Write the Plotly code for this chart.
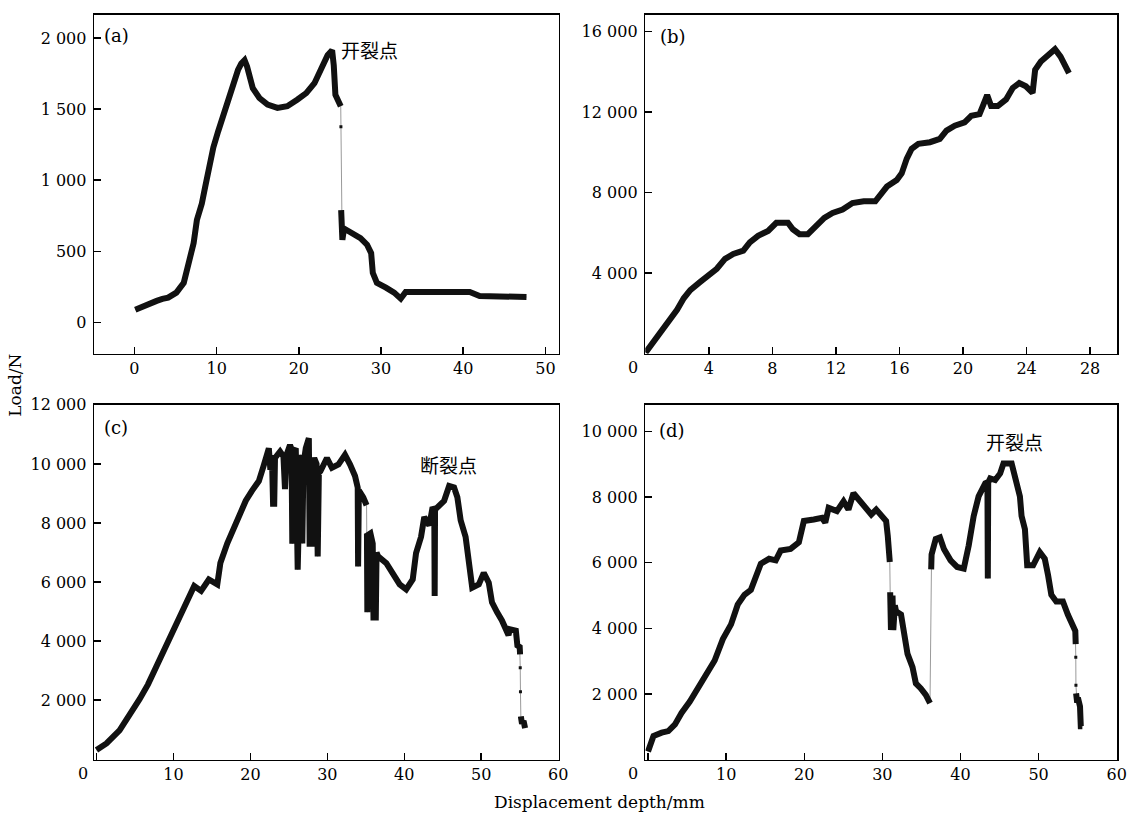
import plotly.graph_objects as go

# ---------------- data ----------------
# (a)
a_x1 = [0.1, 0.6, 1.3, 2.0, 2.7, 3.4, 4.1, 5.1, 6.0, 6.6, 7.2, 7.6, 8.2, 8.6, 9.0, 9.6, 10.2, 10.8, 11.4, 12.0,
        12.6, 13.0, 13.4, 13.7, 14.0, 14.4, 15.2, 16.2, 17.4, 18.6, 19.8, 20.9, 21.9, 22.7, 23.5, 24.05, 24.25,
        24.45, 24.75, 25.1]
a_y1 = [88, 100, 128, 140, 151, 165, 174, 209, 278, 418, 557, 720, 835, 951, 1067, 1230, 1346, 1461, 1578, 1694,
        1775, 1820, 1844, 1800, 1740, 1647, 1578, 1531, 1508, 1520, 1566, 1612, 1682, 1775, 1879, 1914, 1809,
        1600, 1555, 1520]
a_dot_x = [25.12]
a_dot_y = [1376]
a_x2 = [25.15, 25.25, 25.3, 25.5, 25.8, 26.7, 27.5, 28.3, 28.8, 29.0, 29.5, 30.6, 31.6, 32.4, 33.0, 36.2, 40.8,
        42.0, 45.8, 47.7]
a_y2 = [790, 700, 580, 660, 650, 626, 592, 546, 487, 348, 278, 244, 209, 167, 214, 214, 214, 186, 186, 178]

# (b)
b_x = [0.02, 0.54, 1.06, 1.58, 2.0, 2.42, 2.83, 3.46, 3.98, 4.5, 5.02, 5.54, 6.17, 6.58, 7.1, 7.73, 8.25, 8.98,
       9.29, 9.71, 10.23, 10.75, 11.27, 11.79, 12.42, 13.04, 13.75, 14.48, 14.79, 15.21, 15.83, 16.14, 16.46,
       16.77, 17.19, 17.92, 18.54, 18.96, 19.48, 20.1, 20.52, 21.04, 21.25, 21.52, 21.77, 22.19, 22.71, 23.13,
       23.54, 23.96, 24.38, 24.54, 24.9, 25.42, 25.79, 26.14, 26.46, 26.67]
b_y = [54, 622, 1195, 1685, 2175, 2748, 3154, 3561, 3889, 4216, 4706, 4952, 5113, 5520, 5848, 6093, 6500, 6500,
       6176, 5931, 5931, 6338, 6744, 6989, 7156, 7480, 7562, 7562, 7890, 8297, 8624, 8950, 9685, 10175, 10420,
       10500, 10663, 11074, 11319, 11481, 11809, 11889, 12298, 12837, 12298, 12298, 12622, 13195, 13440, 13278,
       12950, 14091, 14503, 14826, 15120, 14747, 14174, 13930]

# (c)
c_x1 = [0.0, 1.3, 3.0, 4.3, 5.6, 6.7, 7.8, 8.8, 9.7, 10.6, 11.4, 12.1, 12.7, 13.6, 14.6, 15.7, 16.1, 17.0, 17.6,
        18.5, 19.4, 20.2, 21.1, 21.7, 22.15, 22.4, 22.6, 22.8, 22.95, 23.1, 23.2, 23.86, 24.3, 24.5, 24.7, 25.15,
        25.35, 25.45, 25.55, 25.9, 26.15, 26.3, 26.5, 26.75, 26.9, 27.2, 27.6, 27.7, 28.0, 28.1, 28.3, 28.6,
        28.75, 28.9, 29.1, 29.95, 30.6, 31.45, 32.3, 32.96, 33.6, 33.95, 34.0, 34.1, 34.67, 35.1]
c_y1 = [310, 533, 977, 1477, 2033, 2533, 3143, 3700, 4200, 4753, 5143, 5587, 5867, 5700, 6087, 5920, 6643, 7310,
        7700, 8200, 8753, 9087, 9420, 9920, 10420, 10530, 9800, 10300, 8650, 8650, 10200, 10420, 10250, 9150,
        10310, 10640, 10500, 7300, 10400, 10530, 6420, 9500, 10310, 7310, 10000, 10530, 10870, 7300, 7300, 10000,
        10200, 10000, 6870, 9700, 9750, 10200, 9870, 9980, 10310, 9980, 9590, 9200, 6530, 9100, 8870, 8600]
c_x2 = [35.15, 35.2, 35.3, 35.6, 35.9, 36.0, 36.3, 36.4, 36.6, 37.67, 38.53, 39.4, 40.25, 41.1, 41.53, 42.18,
        42.6, 43.26, 43.68, 43.9, 43.95, 44.0, 44.54, 45.18, 45.83, 46.47, 46.9, 47.33, 47.97, 48.4, 48.83, 49.69,
        50.33, 50.98, 51.4, 52.05, 52.69, 53.55, 53.7, 54.5, 54.7, 55.0, 55.05]
c_y2 = [7640, 4980, 7600, 7650, 7300, 4800, 4800, 7000, 6870, 6640, 6310, 5920, 5750, 6090, 6980, 7530, 8200,
        7920, 8530, 8450, 5530, 8450, 8590, 8750, 9250, 9200, 8870, 8090, 7530, 6640, 5810, 5920, 6310, 5980,
        5310, 4980, 4700, 4200, 4400, 4350, 3850, 3800, 3550]
c_dot_x = [55.07, 55.1]
c_dot_y = [3100, 2280]
c_x3 = [55.15, 55.3, 55.5, 55.7]
c_y3 = [1450, 1200, 1300, 1050]

# (d)
d_x1 = [0.0, 0.7, 1.75, 2.6, 3.45, 4.29, 5.35, 6.41, 7.46, 8.53, 9.58, 10.63, 11.48, 12.34, 13.17, 13.81, 14.44,
        15.5, 16.35, 16.98, 18.25, 19.31, 19.95, 21.22, 22.27, 22.69, 23.12, 24.18, 25.03, 25.66, 26.3, 26.46,
        27.1, 27.94, 28.58, 29.21, 29.85, 30.48, 30.69, 30.95]
d_y1 = [250, 720, 822, 870, 1071, 1422, 1770, 2172, 2571, 3021, 3672, 4122, 4722, 5022, 5172, 5622, 5970, 6120,
        6072, 6372, 6420, 6621, 7272, 7320, 7371, 7221, 7671, 7572, 7872, 7620, 8121, 8071, 7872, 7620, 7470,
        7620, 7422, 7272, 6822, 6021]
d_x2 = [31.0, 31.1, 31.3, 31.4, 31.6, 31.75, 32.39, 32.8, 33.22, 33.86, 34.29, 34.92, 35.56, 36.1]
d_y2 = [5100, 3950, 5000, 3950, 4700, 4521, 4422, 3822, 3222, 2820, 2322, 2172, 1971, 1722]
d_x3 = [36.25, 36.3, 36.83, 37.37, 37.88, 38.73, 39.57, 40.42, 41.05, 41.69, 42.32, 42.74, 43.17, 43.45, 43.5,
        43.55, 43.8, 44.44, 45.08, 45.5, 46.55, 47.1, 47.61, 47.82, 48.25, 48.54, 49.3, 50.15, 50.79, 51.21,
        51.63, 52.26, 53.11, 53.74, 54.2, 54.7, 54.75]
d_y3 = [5800, 6250, 6721, 6771, 6420, 6072, 5871, 5821, 6522, 7422, 8021, 8271, 8421, 8450, 5520, 8450, 8571,
        8521, 8721, 9021, 9021, 8521, 8021, 7422, 7021, 5922, 5922, 6322, 6120, 5622, 5022, 4821, 4821, 4422,
        4120, 3920, 3520]
d_dot_x = [54.76, 54.78]
d_dot_y = [3120, 2270]
d_x4 = [54.8, 54.9, 55.1, 55.3, 55.4, 55.6]
d_y4 = [2020, 1820, 1820, 1620, 1020, 1020]

# ticks
a_xticks = [0, 10, 20, 30, 40, 50]
a_yticks = [0, 500, 1000, 1500, 2000]
b_xticks = [0, 4, 8, 12, 16, 20, 24, 28]
b_yticks = [4000, 8000, 12000, 16000]
c_xticks = [0, 10, 20, 30, 40, 50, 60]
c_yticks = [2000, 4000, 6000, 8000, 10000, 12000]
d_xticks = [0, 10, 20, 30, 40, 50, 60]
d_yticks = [2000, 4000, 6000, 8000, 10000]


def fmt(v):
    return f"{v:,}".replace(",", " ")


W, H = 1139, 815
fig = go.Figure()


def join(segs):
    xs, ys = [], []
    for i, (sx, sy) in enumerate(segs):
        if i:
            xs.append(None)
            ys.append(None)
        xs += sx
        ys += sy
    return xs, ys


def add_panel(thick_segs, gray_seq, dots, xa, ya):
    gx, gy = [], []
    for sx, sy in gray_seq:
        gx += sx
        gy += sy
    fig.add_trace(go.Scatter(x=gx, y=gy, mode='lines', line=dict(color='#9a9a9a', width=1),
                             xaxis=xa, yaxis=ya, hoverinfo='skip'))
    tx, ty = join(thick_segs)
    fig.add_trace(go.Scatter(x=tx, y=ty, mode='lines', line=dict(color='#111111', width=6),
                             connectgaps=False, xaxis=xa, yaxis=ya))
    if dots:
        fig.add_trace(go.Scatter(x=dots[0], y=dots[1], mode='markers',
                                 marker=dict(symbol='square', size=3, color='#111111'),
                                 xaxis=xa, yaxis=ya))


add_panel([(a_x1, a_y1), (a_x2, a_y2)], [(a_x1, a_y1), (a_dot_x, a_dot_y), (a_x2, a_y2)],
          (a_dot_x, a_dot_y), 'x', 'y')
add_panel([(b_x, b_y)], [(b_x, b_y)], None, 'x2', 'y2')
add_panel([(c_x1, c_y1), (c_x2, c_y2), (c_x3, c_y3)],
          [(c_x1, c_y1), (c_x2, c_y2), (c_dot_x, c_dot_y), (c_x3, c_y3)],
          (c_dot_x, c_dot_y), 'x3', 'y3')
add_panel([(d_x1, d_y1), (d_x2, d_y2), (d_x3, d_y3), (d_x4, d_y4)],
          [(d_x1, d_y1), (d_x2, d_y2), (d_x3, d_y3), (d_dot_x, d_dot_y), (d_x4, d_y4)],
          (d_dot_x, d_dot_y), 'x4', 'y4')

FONT = 'DejaVu Serif'
tickfont = dict(family=FONT, size=16, color='black')
base = dict(showline=True, linecolor='black', linewidth=1.5, mirror=True, ticks='inside', ticklen=7,
            tickwidth=1.5, tickcolor='black', showgrid=False, zeroline=False, tickfont=tickfont,
            tickmode='array', ticklabelstandoff=3)

left_dom = [95 / W, 563.5 / W]
right_dom = [651 / W, 1127 / W]
top_dom = [1 - 348.5 / H, 1 - 6 / H]
bot_dom = [1 - 759 / H, 1 - 400 / H]


def xt(ticks, hide_zero=False):
    return [("" if (hide_zero and t == 0) else fmt(t)) for t in ticks]


xbase = dict(base, ticklabelstandoff=0)

fig.update_layout(
    width=W, height=H, margin=dict(l=0, r=0, t=0, b=0),
    paper_bgcolor='white', plot_bgcolor='white', showlegend=False,
    xaxis=dict(xbase, domain=left_dom, anchor='y', range=[-4.9, 51.6], tickvals=a_xticks, ticktext=xt(a_xticks)),
    yaxis=dict(base, domain=top_dom, anchor='x', range=[-220, 2162], tickvals=a_yticks, ticktext=xt(a_yticks)),
    xaxis2=dict(xbase, domain=right_dom, anchor='y2', range=[0, 29.7], tickvals=b_xticks,
                ticktext=xt(b_xticks, True)),
    yaxis2=dict(base, domain=top_dom, anchor='x2', range=[0, 16820], tickvals=b_yticks, ticktext=xt(b_yticks)),
    xaxis3=dict(xbase, domain=left_dom, anchor='y3', range=[-0.3, 60.05], tickvals=c_xticks,
                ticktext=xt(c_xticks, True)),
    yaxis3=dict(base, domain=bot_dom, anchor='x3', range=[-15, 12010], tickvals=c_yticks, ticktext=xt(c_yticks)),
    xaxis4=dict(xbase, domain=right_dom, anchor='y4', range=[-0.35, 60.05], tickvals=d_xticks,
                ticktext=xt(d_xticks, True)),
    yaxis4=dict(base, domain=bot_dom, anchor='x4', range=[0, 10820], tickvals=d_yticks, ticktext=xt(d_yticks)),
)


def ann(text, px, py, size=16, family=FONT, angle=0):
    fig.add_annotation(text=text, x=px / W, y=1 - py / H, xref='paper', yref='paper', showarrow=False,
                       font=dict(family=family, size=size, color='black'), textangle=angle,
                       xanchor='center', yanchor='middle')


CJK = 'Noto Sans CJK SC'
ann('(a)', 118, 27, 18)
ann('(b)', 679, 28, 18)
ann('(c)', 117.5, 423, 18)
ann('(d)', 678, 426, 18)
ann('开裂点', 372.5, 40.5, 19, CJK)
ann('断裂点', 452, 461, 19, CJK)
ann('开裂点', 1023.5, 437.5, 19, CJK)
# zero labels sitting at the lower-left corners
ann('0', 639, 362, 16)
ann('0', 84, 773, 16)
ann('0', 639, 773, 16)
ann('Load/N', 15, 380, 17, FONT, -90)
ann('Displacement depth/mm', 605, 802, 17)

fig.write_html("out.html", config={'displayModeBar': False, 'staticPlot': True},
               post_script="document.body.style.margin='0';document.body.style.padding='0';"
                           "document.documentElement.style.overflow='hidden';")
